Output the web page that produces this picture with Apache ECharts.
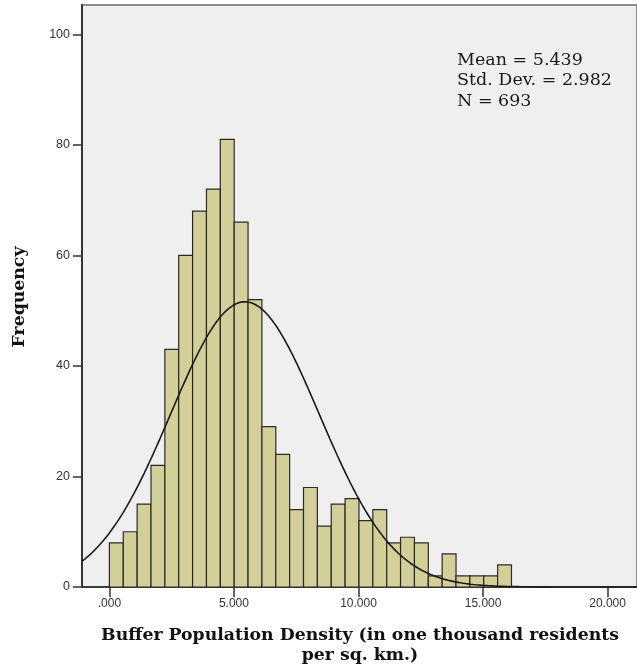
<!DOCTYPE html>
<html>
<head>
<meta charset="utf-8">
<script src="https://cdn.jsdelivr.net/npm/echarts@6/dist/echarts.min.js"></script>
<style>
  html, body { margin: 0; padding: 0; background: #ffffff; }
  #chart { width: 637px; height: 672px; }
</style>
</head>
<body>
<div id="chart"></div>
<script>
// Histogram of buffer population density (thousand residents per sq. km)
const binOrigin = 0;
const binWidth = 0.5566;
const counts = [8, 10, 15, 22, 43, 60, 68, 72, 81, 66, 52, 29, 24, 14, 18, 11, 15, 16, 12, 14, 8, 9, 8, 2, 6, 2, 2, 2, 4];

// Summary statistics shown in the corner
const statMean = 5.439;
const statSd = 2.982;
const statN = 693;

const xTickValues = [0, 5, 10, 15, 20];
const xTickLabels = ['.000', '5.000', '10.000', '15.000', '20.000'];
const yTickValues = [0, 20, 40, 60, 80, 100];
const yTickLabels = ['0', '20', '40', '60', '80', '100'];

const xMin = -1.1, xMax = 21.18;
const yMin = 0, yMax = 105.3;

// Bin rectangles: [start, end, count]
const bins = counts.map((c, i) => [binOrigin + i * binWidth, binOrigin + (i + 1) * binWidth, c]);

// Fitted normal curve, scaled to frequency per bin
const curve = [];
for (let x = xMin; x <= xMax + 1e-9; x += 0.05) {
  const z = (x - statMean) / statSd;
  const y = statN * binWidth / (statSd * Math.sqrt(2 * Math.PI)) * Math.exp(-0.5 * z * z);
  curve.push([x, y]);
}

const chart = echarts.init(document.getElementById('chart'), null, { renderer: 'canvas' });

const serif = '"DejaVu Serif", "Liberation Serif", serif';
const sans = '"Liberation Sans", Arial, sans-serif';

chart.setOption({
  animation: false,
  backgroundColor: '#ffffff',
  grid: {
    left: 82, top: 5, right: -3, bottom: 85,
    show: true, backgroundColor: '#efefef',
    borderColor: '#8c8c8c', borderWidth: 2
  },
  xAxis: {
    type: 'value', min: xMin, max: xMax,
    splitLine: { show: false },
    axisLine: { show: true, onZero: false, lineStyle: { color: '#222', width: 1.5 } },
    axisTick: { show: true, inside: false, length: 10, customValues: xTickValues, lineStyle: { color: '#333', width: 1.5 } },
    axisLabel: {
      customValues: xTickValues, margin: 11,
      color: '#333', fontFamily: sans, fontSize: 12,
      formatter: v => xTickLabels[xTickValues.indexOf(v)]
    }
  },
  yAxis: {
    type: 'value', min: yMin, max: yMax,
    splitLine: { show: false },
    axisLine: { show: true, onZero: false, lineStyle: { color: '#333', width: 2 } },
    axisTick: { show: true, inside: false, length: 9, customValues: yTickValues, lineStyle: { color: '#333', width: 1.5 } },
    axisLabel: {
      customValues: yTickValues, margin: 12,
      color: '#333', fontFamily: sans, fontSize: 12.5,
      formatter: v => yTickLabels[yTickValues.indexOf(v)]
    }
  },
  series: [
    {
      type: 'custom',
      data: bins,
      encode: { x: [0, 1], y: 2 },
      z: 2,
      renderItem: function (params, api) {
        const p0 = api.coord([api.value(0), api.value(2)]);
        const p1 = api.coord([api.value(1), 0]);
        return {
          type: 'rect',
          shape: { x: p0[0], y: p0[1], width: p1[0] - p0[0], height: p1[1] - p0[1] },
          style: { fill: '#d3cf98', stroke: '#2a2a2a', lineWidth: 1.2 }
        };
      }
    },
    {
      type: 'line',
      data: curve,
      showSymbol: false,
      smooth: false,
      clip: true,
      z: 3,
      lineStyle: { color: '#1a1a1a', width: 1.6 }
    }
  ],
  graphic: [
    {
      type: 'text', x: 457, y: 50,
      style: {
        text: 'Mean = ' + statMean.toFixed(3) + '\nStd. Dev. = ' + statSd.toFixed(3) + '\nN = ' + statN,
        font: '17.5px ' + serif, fill: '#1a1a1a', lineHeight: 20.5,
        align: 'left', verticalAlign: 'top'
      }
    },
    {
      type: 'text', x: 360, y: 626,
      style: {
        text: 'Buffer Population Density (in one thousand residents\nper sq. km.)',
        font: 'bold 17.3px ' + serif, fill: '#111', align: 'center', verticalAlign: 'top', lineHeight: 20
      }
    },
    {
      type: 'text',
      x: 20, y: 297, rotation: Math.PI / 2,
      style: {
        text: 'Frequency', font: 'bold 17.3px ' + serif, fill: '#111',
        align: 'center', verticalAlign: 'middle'
      }
    }
  ]
});
</script>
</body>
</html>
